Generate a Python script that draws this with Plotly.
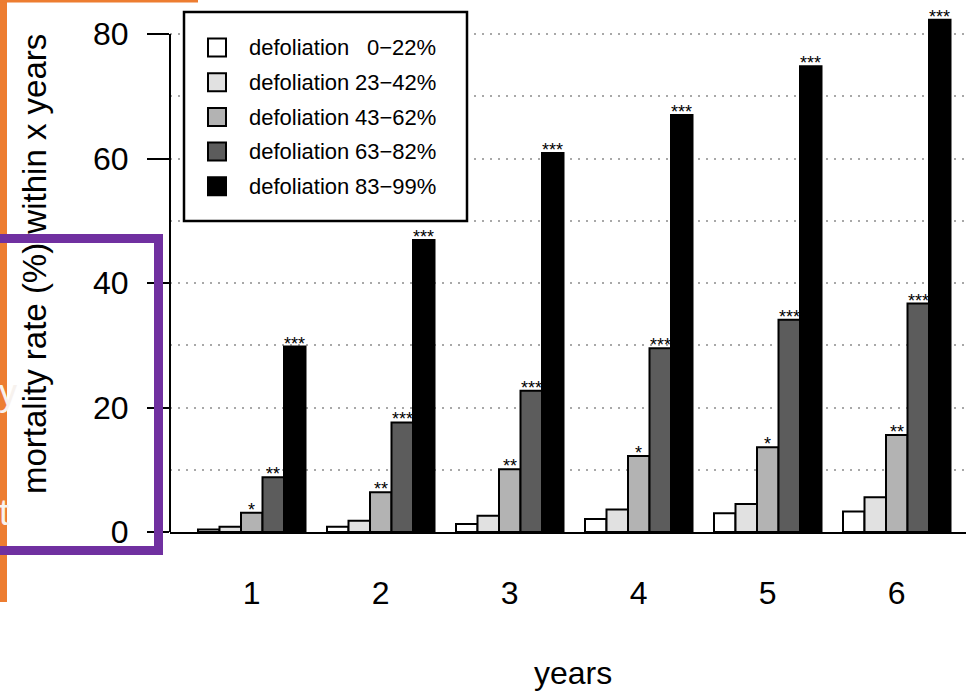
import plotly.graph_objects as go

# ---- data -------------------------------------------------------------
years = [1, 2, 3, 4, 5, 6]
year_labels = ["1", "2", "3", "4", "5", "6"]

classes = ["0−22%", "23−42%", "43−62%", "63−82%", "83−99%"]
mort_0_22 = [0.4, 0.85, 1.3, 2.1, 3.0, 3.3]
mort_23_42 = [0.85, 1.8, 2.6, 3.6, 4.5, 5.6]
mort_43_62 = [3.1, 6.4, 10.1, 12.2, 13.6, 15.6]
mort_63_82 = [8.8, 17.6, 22.7, 29.5, 34.1, 36.7]
mort_83_99 = [29.8, 46.9, 60.9, 67.0, 74.8, 82.3]

sig_0_22 = ["", "", "", "", "", ""]
sig_23_42 = ["", "", "", "", "", ""]
sig_43_62 = ["*", "**", "**", "*", "*", "**"]
sig_63_82 = ["**", "***", "***", "***", "***", "***"]
sig_83_99 = ["***", "***", "***", "***", "***", "***"]

y_ticks = [0, 20, 40, 60, 80]
y_minor = [10, 30, 50, 70]

series = [mort_0_22, mort_23_42, mort_43_62, mort_63_82, mort_83_99]
stars = [sig_0_22, sig_23_42, sig_43_62, sig_63_82, sig_83_99]
fills = ["#ffffff", "#e1e1e1", "#b3b3b3", "#5c5c5c", "#000000"]

# ---- geometry ---------------------------------------------------------
W, H = 966, 691
L, T, PW, PH = 170, 0, 796, 532
BARGAP = 1 / 6
BAR_W = (1 - BARGAP) / len(series)
FONT = "Liberation Sans, Arial, sans-serif"


def fx(px):
    return (px - L) / PW


def fy(py):
    return 1 - (py - T) / PH


fig = go.Figure()
for vals, fill, cls in zip(series, fills, classes):
    fig.add_trace(go.Bar(
        x=years, y=vals, name="defoliation " + cls,
        marker=dict(color=fill, line=dict(color="black", width=2)),
        showlegend=False,
    ))

annotations = []
# significance stars above the bars
for j, (vals, sig) in enumerate(zip(series, stars)):
    for yr, v, s in zip(years, vals, sig):
        if s:
            annotations.append(dict(
                x=yr + (j - 2) * BAR_W, y=v, xref="x", yref="y",
                text=s, showarrow=False, yanchor="middle", yshift=3,
                font=dict(family=FONT, size=18, color="black"),
            ))

shapes = []
# y axis line spanning the tick range only
shapes.append(dict(type="line", xref="paper", yref="y", x0=0, x1=0,
                   y0=y_ticks[0], y1=y_ticks[-1],
                   line=dict(color="black", width=2), layer="above"))

# legend box
shapes.append(dict(type="rect", xref="paper", yref="paper",
                   x0=fx(184), x1=fx(467), y0=fy(221), y1=fy(12),
                   fillcolor="white", line=dict(color="black", width=2.5),
                   layer="above"))
row_y = [47.5, 82.3, 117, 151.6, 186.2]
for fill, cls, ry in zip(fills, classes, row_y):
    shapes.append(dict(type="rect", xref="paper", yref="paper",
                       x0=fx(208), x1=fx(226), y0=fy(ry + 9), y1=fy(ry - 9),
                       fillcolor=fill, line=dict(color="black", width=2),
                       layer="above"))
    annotations.append(dict(x=fx(247), y=fy(ry), xref="paper", yref="paper",
                            text="defoliation", showarrow=False,
                            xanchor="left", yanchor="middle",
                            font=dict(family=FONT, size=22, color="black")))
    annotations.append(dict(x=fx(438), y=fy(ry), xref="paper", yref="paper",
                            text=cls, showarrow=False,
                            xanchor="right", yanchor="middle",
                            font=dict(family=FONT, size=22, color="black")))

# axis titles
annotations.append(dict(x=fx(34), y=fy(264), xref="paper", yref="paper",
                        text="mortality rate (%) within x years",
                        textangle=-90, showarrow=False,
                        xanchor="center", yanchor="middle",
                        font=dict(family=FONT, size=33, color="black")))
annotations.append(dict(x=fx(573), y=fy(673), xref="paper", yref="paper",
                        text="years", showarrow=False,
                        xanchor="center", yanchor="middle",
                        font=dict(family=FONT, size=32, color="black")))

# slide frame behind the chart
ORANGE = "#ED7D31"
shapes.append(dict(type="rect", xref="paper", yref="paper",
                   x0=fx(-5), x1=fx(7), y0=fy(602), y1=fy(-5),
                   fillcolor=ORANGE, line=dict(width=0), layer="above"))
shapes.append(dict(type="rect", xref="paper", yref="paper",
                   x0=fx(-5), x1=fx(198), y0=fy(2.5), y1=fy(-5),
                   fillcolor=ORANGE, line=dict(width=0), layer="above"))
for ch, cy in [("y", 392), ("t", 512)]:
    annotations.append(dict(x=fx(-3), y=fy(cy), xref="paper", yref="paper",
                            text=ch, showarrow=False,
                            xanchor="left", yanchor="middle",
                            font=dict(family=FONT, size=36, color="#f7f2ee")))

# highlight frame
shapes.append(dict(type="rect", xref="paper", yref="paper",
                   x0=fx(-20), x1=fx(158.5), y0=fy(550.5), y1=fy(238.5),
                   line=dict(color="#7030A0", width=9), layer="above"))

GRID = dict(gridcolor="#a8a8a8", gridwidth=1.5, griddash="2px,6px")

fig.update_layout(
    width=W, height=H,
    margin=dict(l=L, r=W - L - PW, t=T, b=H - T - PH, pad=0),
    paper_bgcolor="white", plot_bgcolor="white",
    barmode="group", bargap=BARGAP, bargroupgap=0,
    font=dict(family=FONT, size=32, color="black"),
    xaxis=dict(
        range=[1 - (251.75 - L) / 129, 1 + (L + PW - 251.75) / 129],
        tickmode="array", tickvals=years, ticktext=year_labels,
        ticks="", showgrid=False, zeroline=False,
        showline=True, linecolor="black", linewidth=2,
        ticklabelstandoff=32,
        tickfont=dict(family=FONT, size=32, color="black"),
    ),
    yaxis=dict(
        range=[0, PH / 6.225],
        tickmode="array", tickvals=y_ticks,
        ticks="outside", ticklen=22, tickwidth=2, tickcolor="black",
        showline=False, zeroline=False, showgrid=True, **GRID,
        ticklabelstandoff=12,
        tickfont=dict(family=FONT, size=32, color="black"),
        minor=dict(tickvals=y_minor, showgrid=True, ticks="", **GRID),
    ),
    shapes=shapes,
    annotations=annotations,
)

fig.write_html("out.html")
